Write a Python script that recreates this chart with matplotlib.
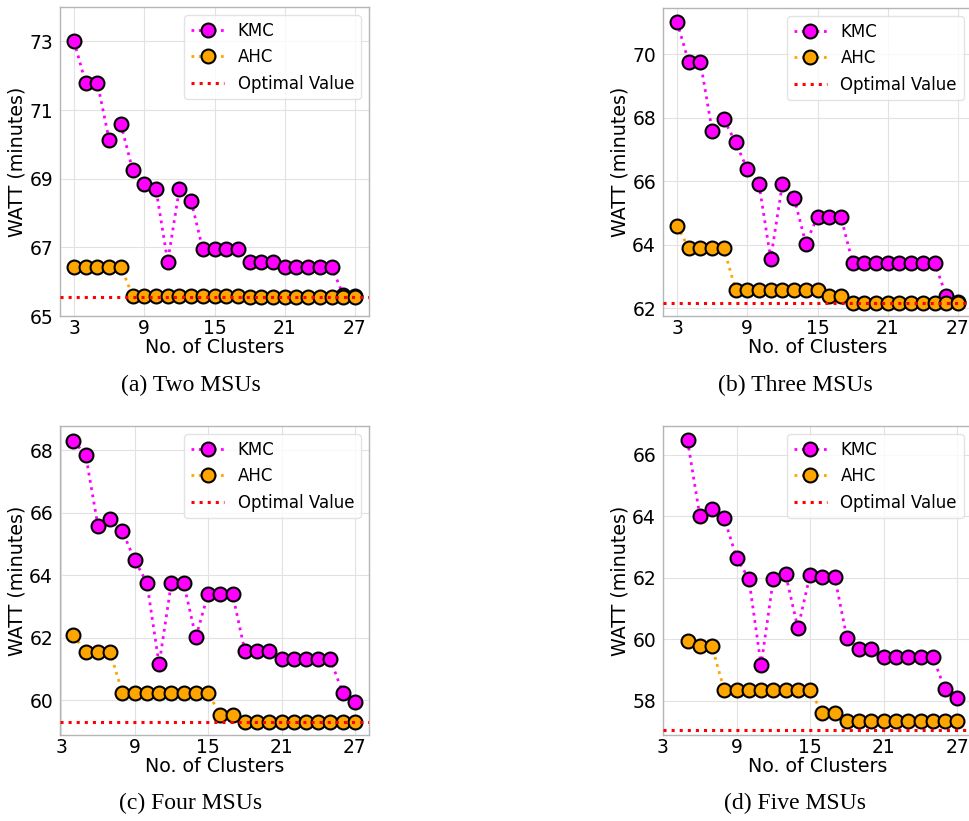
import matplotlib
matplotlib.use("Agg")
import matplotlib.pyplot as plt

# cluster counts per panel
x_two = list(range(3, 28))
x_three = list(range(3, 28))
x_four = list(range(4, 28))
x_five = list(range(5, 28))

# (a) Two MSUs
kmc_two = [73.0, 71.78, 71.78, 70.13, 70.59, 69.26, 68.85, 68.70, 66.58, 68.70,
           68.36, 66.94, 66.94, 66.94, 66.94, 66.58, 66.58, 66.58, 66.44, 66.44,
           66.44, 66.44, 66.44, 65.61, 65.57]
ahc_two = [66.44, 66.44, 66.44, 66.44, 66.44, 65.59, 65.59, 65.59, 65.59, 65.59,
           65.59, 65.59, 65.59, 65.59, 65.59, 65.56, 65.56, 65.56, 65.56, 65.56,
           65.56, 65.56, 65.56, 65.56, 65.56]
opt_two = 65.56

# (b) Three MSUs
kmc_three = [71.01, 69.74, 69.74, 67.59, 67.95, 67.22, 66.38, 65.91, 63.56, 65.91,
             65.48, 64.04, 64.88, 64.88, 64.88, 63.44, 63.44, 63.44, 63.44, 63.44,
             63.44, 63.44, 63.44, 62.39, 62.19]
ahc_three = [64.60, 63.89, 63.89, 63.89, 63.89, 62.59, 62.59, 62.59, 62.59, 62.59,
             62.59, 62.59, 62.59, 62.39, 62.39, 62.18, 62.18, 62.18, 62.18, 62.18,
             62.18, 62.18, 62.18, 62.18, 62.18]
opt_three = 62.18

# (c) Four MSUs
kmc_four = [68.30, 67.84, 65.57, 65.78, 65.40, 64.48, 63.75, 61.14, 63.75, 63.75,
            62.01, 63.39, 63.39, 63.39, 61.58, 61.58, 61.58, 61.30, 61.30, 61.30,
            61.30, 61.30, 60.23, 59.95]
ahc_four = [62.08, 61.53, 61.53, 61.53, 60.23, 60.23, 60.23, 60.23, 60.23, 60.23,
            60.23, 60.23, 59.52, 59.52, 59.31, 59.31, 59.31, 59.31, 59.31, 59.31,
            59.31, 59.31, 59.31, 59.31]
opt_four = 59.31

# (d) Five MSUs
kmc_five = [66.47, 64.02, 64.25, 63.94, 62.65, 61.97, 59.16, 61.97, 62.12, 60.36,
            62.11, 62.04, 62.04, 60.04, 59.70, 59.70, 59.43, 59.43, 59.43, 59.43,
            59.43, 58.38, 58.09]
ahc_five = [59.96, 59.77, 59.77, 58.34, 58.34, 58.34, 58.34, 58.34, 58.34, 58.34,
            58.34, 57.60, 57.60, 57.33, 57.33, 57.33, 57.33, 57.33, 57.33, 57.33,
            57.33, 57.33, 57.33]
opt_five = 57.06

captions = ["(a) Two MSUs", "(b) Three MSUs", "(c) Four MSUs", "(d) Five MSUs"]
xticks = [3, 9, 15, 21, 27]

W, H = 969, 821
fig = plt.figure(figsize=(W / 100, H / 100), dpi=100)

# panel boxes in pixels: left, top, width, height
boxes = [(60, 7, 309, 309), (663, 8, 309, 308), (60, 426, 309, 309), (663, 426, 309, 309)]
panels = [
    (x_two, kmc_two, ahc_two, opt_two, (1.8, 28.2), (65, 74), [65, 67, 69, 71, 73]),
    (x_three, kmc_three, ahc_three, opt_three, (1.8, 28.2), (61.76, 71.45), [62, 64, 66, 68, 70]),
    (x_four, kmc_four, ahc_four, opt_four, (2.9, 28.15), (58.88, 68.77), [60, 62, 64, 66, 68]),
    (x_five, kmc_five, ahc_five, opt_five, (3.0, 28.2), (56.89, 66.94), [58, 60, 62, 64, 66]),
]
cap_pos = [(191, 385), (795, 385), (191, 803), (795, 803)]

for (l, t, w, h), (xs, kmc, ahc, opt, xl, yl, yt), cap, (cx, cy) in zip(boxes, panels, captions, cap_pos):
    ax = fig.add_axes([l / W, (H - t - h) / H, w / W, h / H])
    ax.plot(xs, kmc, ':', color='magenta', lw=2, marker='o', ms=10,
            mfc='magenta', mec='black', mew=1.5, label='KMC', zorder=3)
    ax.plot(xs, ahc, ':', color='orange', lw=2, marker='o', ms=10,
            mfc='orange', mec='black', mew=1.5, label='AHC', zorder=3)
    ax.axhline(opt, color='red', ls=':', lw=2.2, label='Optimal Value', zorder=4)
    ax.set_xlim(*xl)
    ax.set_ylim(*yl)
    ax.set_xticks(xticks)
    ax.set_yticks(yt)
    ax.grid(True, color='#e2e2e2', lw=0.8)
    ax.set_axisbelow(True)
    for s in ax.spines.values():
        s.set_color('#b5b5b5')
        s.set_linewidth(1)
    ax.tick_params(length=0, labelsize=13.5)
    ax.tick_params(axis='y', pad=5)
    ax.tick_params(axis='x', pad=2)
    ax.set_xlabel('No. of Clusters', fontsize=13.7, labelpad=0)
    ax.set_ylabel('WATT (minutes)', fontsize=13.7, labelpad=2)
    ax.legend(loc='upper right', fontsize=12, framealpha=0.8, edgecolor='#dddddd')
    fig.text(cx / W, 1 - cy / H, cap, family='Liberation Serif', fontsize=17,
             ha='center', va='center')

fig.savefig('out.png', dpi=100)
